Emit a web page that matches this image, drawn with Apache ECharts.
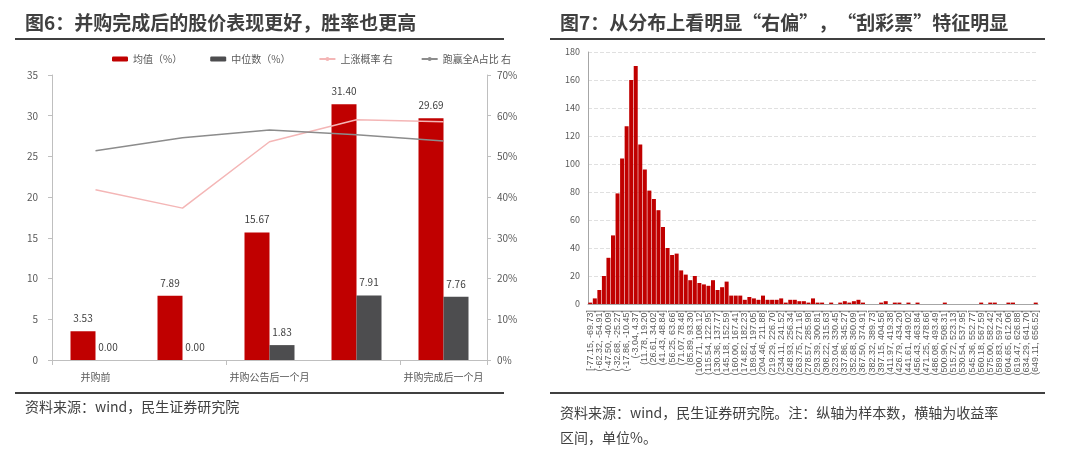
<!DOCTYPE html>
<html><head><meta charset="utf-8">
<script src="https://cdn.jsdelivr.net/npm/echarts@6/dist/echarts.min.js"></script>
<style>html,body{margin:0;padding:0;background:#fff}#c{width:1073px;height:457px}</style>
</head><body><div id="c"></div>
<script>
const categories = ['并购前','并购公告后一周','并购公告后一个月','并购完成后一周','并购完成后一个月'];
const meanVals = [3.53, 7.89, 15.67, 31.40, 29.69];
const medianVals = [0.00, 0.00, 1.83, 7.91, 7.76];
const upProb = [41.8, 37.3, 53.6, 59.0, 58.5];
const beatShare = [51.4, 54.6, 56.5, 55.3, 53.8];

const binLabels = ["[-77.15, -69.73]","(-69.73, -62.32]","(-62.32, -54.91]","(-54.91, -47.50]","(-47.50, -40.09]","(-40.09, -32.68]","(-32.68, -25.27]","(-25.27, -17.86]","(-17.86, -10.45]","(-10.45, -3.04]","(-3.04, 4.37]","(4.37, 11.78]","(11.78, 19.20]","(19.20, 26.61]","(26.61, 34.02]","(34.02, 41.43]","(41.43, 48.84]","(48.84, 56.25]","(56.25, 63.66]","(63.66, 71.07]","(71.07, 78.48]","(78.48, 85.89]","(85.89, 93.30]","(93.30, 100.71]","(100.71, 108.12]","(108.12, 115.54]","(115.54, 122.95]","(122.95, 130.36]","(130.36, 137.77]","(137.77, 145.18]","(145.18, 152.59]","(152.59, 160.00]","(160.00, 167.41]","(167.41, 174.82]","(174.82, 182.23]","(182.23, 189.64]","(189.64, 197.05]","(197.05, 204.46]","(204.46, 211.88]","(211.88, 219.29]","(219.29, 226.70]","(226.70, 234.11]","(234.11, 241.52]","(241.52, 248.93]","(248.93, 256.34]","(256.34, 263.75]","(263.75, 271.16]","(271.16, 278.57]","(278.57, 285.98]","(285.98, 293.39]","(293.39, 300.81]","(300.81, 308.22]","(308.22, 315.63]","(315.63, 323.04]","(323.04, 330.45]","(330.45, 337.86]","(337.86, 345.27]","(345.27, 352.68]","(352.68, 360.09]","(360.09, 367.50]","(367.50, 374.91]","(374.91, 382.32]","(382.32, 389.73]","(389.73, 397.15]","(397.15, 404.56]","(404.56, 411.97]","(411.97, 419.38]","(419.38, 426.79]","(426.79, 434.20]","(434.20, 441.61]","(441.61, 449.02]","(449.02, 456.43]","(456.43, 463.84]","(463.84, 471.25]","(471.25, 478.66]","(478.66, 486.08]","(486.08, 493.49]","(493.49, 500.90]","(500.90, 508.31]","(508.31, 515.72]","(515.72, 523.13]","(523.13, 530.54]","(530.54, 537.95]","(537.95, 545.36]","(545.36, 552.77]","(552.77, 560.18]","(560.18, 567.59]","(567.59, 575.00]","(575.00, 582.42]","(582.42, 589.83]","(589.83, 597.24]","(597.24, 604.65]","(604.65, 612.06]","(612.06, 619.47]","(619.47, 626.88]","(626.88, 634.29]","(634.29, 641.70]","(641.70, 649.11]","(649.11, 656.52]"];
const binCounts = [1,4,10,20,33,49,79,104,127,160,170,114,96,81,75,67,55,40,35,36,24,21,17,20,15,14,13,17,10,12,16,6,6,6,3,5,4,3,6,3,3,3,4,1,3,3,2,2,1,4,1,1,0,1,0,1,2,1,2,3,1,0,0,0,1,2,0,1,1,0,1,0,1,0,0,0,0,0,1,0,0,0,0,0,0,0,1,0,1,1,0,0,1,1,0,0,0,0,1];

const chart = echarts.init(document.getElementById('c'));
const txt = '#404040';
const lbl = {fontSize:11, color:'#595959', fontFamily:'Noto Sans CJK SC'};
chart.setOption({
  animation:false,
  textStyle:{fontFamily:'Noto Sans CJK SC'},
  graphic:[
    {type:'text',left:25,top:13,style:{text:'图6：并购完成后的股价表现更好，胜率也更高',font:'bold 19px "Noto Sans CJK SC"',fill:txt}},
    {type:'rect',shape:{x:15,y:38,width:489,height:2},style:{fill:'#404040'}},
    {type:'rect',shape:{x:15,y:392,width:489,height:2},style:{fill:'#404040'}},
    {type:'text',left:25,top:400,style:{text:'资料来源：wind，民生证券研究院',font:'14px "Noto Sans CJK SC"',fill:txt}},
    {type:'text',left:560,top:13,style:{text:'图7：从分布上看明显“右偏”，“刮彩票”特征明显',font:'bold 19px "Noto Sans CJK SC"',fill:txt}},
    {type:'rect',shape:{x:550,y:38,width:495,height:2},style:{fill:'#404040'}},
    {type:'rect',shape:{x:550,y:392,width:495,height:2},style:{fill:'#404040'}},
    {type:'text',left:560,top:400,style:{text:'资料来源：wind，民生证券研究院。注：纵轴为样本数，横轴为收益率\n区间，单位%。',font:'14px "Noto Sans CJK SC"',fill:txt,lineHeight:25}}
  ],
  legend:{left:107,top:49,itemWidth:16,itemHeight:5,itemGap:28,textStyle:{fontSize:10,color:'#595959'},
    data:[{name:'均值（%）'},{name:'中位数（%）'},{name:'上涨概率 右'},{name:'跑赢全A占比 右'}]},
  grid:[
    {left:52,right:1073-487,top:75,bottom:457-360},
    {left:588,right:1073-1038,top:52,bottom:457-304}
  ],
  xAxis:[
    {gridIndex:0,type:'category',data:categories,axisLine:{lineStyle:{color:'#bfbfbf'}},axisTick:{show:true,lineStyle:{color:'#bfbfbf'}},axisLabel:{...lbl,fontSize:10,margin:12}},
    {gridIndex:1,type:'category',data:binLabels,axisLine:{lineStyle:{color:'#a6a6a6'}},axisTick:{show:false},
      axisLabel:{interval:1,rotate:90,fontSize:9,color:'#595959',margin:6,fontFamily:'Liberation Sans'}}
  ],
  yAxis:[
    {gridIndex:0,type:'value',min:0,max:35,interval:5,splitLine:{show:false},axisLine:{show:true,lineStyle:{color:'#bfbfbf'}},axisTick:{show:true,inside:false,length:4,lineStyle:{color:'#bfbfbf'}},axisLabel:{...lbl,fontSize:10,margin:14}},
    {gridIndex:0,type:'value',min:0,max:70,interval:10,splitLine:{show:false},axisLine:{show:true,lineStyle:{color:'#bfbfbf'}},axisTick:{show:true,length:4,lineStyle:{color:'#bfbfbf'}},axisLabel:{...lbl,fontSize:10,margin:10,formatter:'{value}%'}},
    {gridIndex:1,type:'value',min:0,max:180,interval:20,splitLine:{lineStyle:{type:'dashed',color:'#e0e0e0'}},axisLine:{show:true,lineStyle:{color:'#a6a6a6'}},axisTick:{show:false},axisLabel:{fontSize:9,color:'#595959',margin:8}}
  ],
  series:[
    {name:'均值（%）',type:'bar',xAxisIndex:0,yAxisIndex:0,data:meanVals,barWidth:25,barGap:'0%',itemStyle:{color:'#c00000'},
      label:{show:true,position:'top',fontSize:10,color:'#404040',distance:8,formatter:p=>p.value.toFixed(2)}},
    {name:'中位数（%）',type:'bar',xAxisIndex:0,yAxisIndex:0,data:medianVals,barWidth:25,itemStyle:{color:'#4d4d4f'},
      label:{show:true,position:'top',fontSize:10,color:'#404040',distance:8,formatter:p=>p.value.toFixed(2)}},
    {name:'上涨概率 右',type:'line',xAxisIndex:0,yAxisIndex:1,data:upProb,symbol:'none',lineStyle:{color:'#f4b6b6',width:1.5},itemStyle:{color:'#f4b6b6'}},
    {name:'跑赢全A占比 右',type:'line',xAxisIndex:0,yAxisIndex:1,data:beatShare,symbol:'none',lineStyle:{color:'#8c8c8c',width:1.5},itemStyle:{color:'#8c8c8c'}},
    {name:'hist',type:'bar',xAxisIndex:1,yAxisIndex:2,data:binCounts,barCategoryGap:'12%',itemStyle:{color:'#c00000'}}
  ]
});
</script></body></html>
